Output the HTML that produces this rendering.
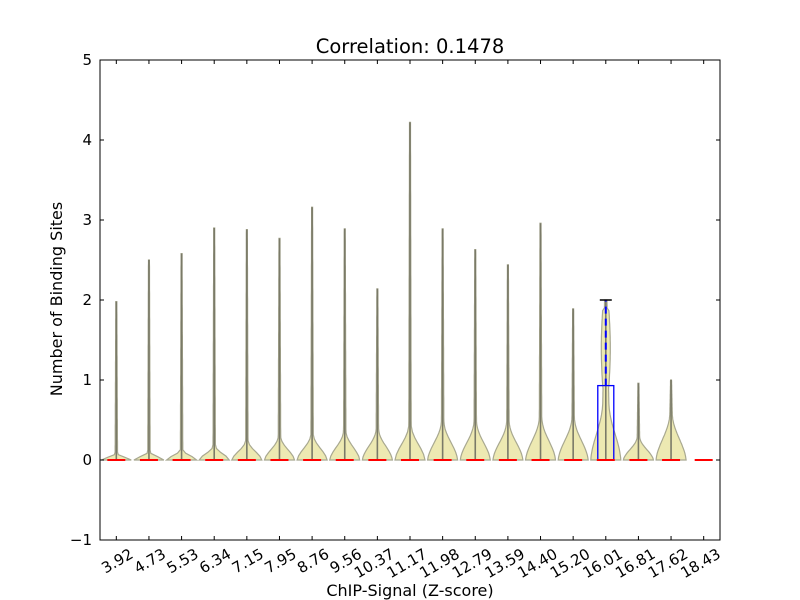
<!DOCTYPE html>
<html><head><meta charset="utf-8"><style>
body{margin:0;background:#fff;}
svg{display:block;font-family:"DejaVu Sans","Liberation Sans",sans-serif;}
</style></head><body>
<svg id="chart" width="800" height="600" viewBox="0 0 800 600"></svg>
<script>
const categories=["3.92","4.73","5.53","6.34","7.15","7.95","8.76","9.56","10.37","11.17","11.98","12.79","13.59","14.40","15.20","16.01","16.81","17.62","18.43"];
const maxValues=[1.98,2.5,2.58,2.9,2.88,2.77,3.16,2.89,2.14,4.22,2.89,2.63,2.44,2.96,1.89,2.0,0.96,1.0,0];
const bulgeHeights=[0.08,0.1,0.13,0.18,0.25,0.3,0.33,0.37,0.4,0.45,0.5,0.5,0.5,0.55,0.55,0.75,0.3,0.6,0];
const medians=[0,0,0,0,0,0,0,0,0,0,0,0,0,0,0,0,0,0,0];
const boxQ3=0.93, boxWhisker=2.0, boxIndex=15;
const yTicks=[-1,0,1,2,3,4,5];
const svg=document.getElementById('chart');
const NS='http://www.w3.org/2000/svg';
const L=100,R=720,T=60,B=540,ymin=-1,ymax=5;
const y=v=>B-(v-ymin)/(ymax-ymin)*(B-T);
const bw=(R-L)/categories.length;
const x=i=>L+bw*(i+0.5);
function mk(tag,attrs,parent){const e=document.createElementNS(NS,tag);for(const k in attrs)e.setAttribute(k,attrs[k]);(parent||svg).appendChild(e);return e;}
categories.forEach((c,i)=>{
  const mx=maxValues[i],b=bulgeHeights[i];
  if(mx<=0)return;
  const cx=x(i),W=15,neck=(i===boxIndex?3:1.2);
  let right=[],left=[];
  const n=60;
  for(let k=0;k<=n;k++){
    const v=mx*k/n;
    let w;
    if(v<b){const t=v/b;w=neck+(W-neck)*(0.5*(1+Math.cos(Math.PI*t))*(1-t*0.3));}else{w=neck*(1-0.6*(v-b)/Math.max(mx-b,0.01));}
    if(i===boxIndex&&v>0.9&&v<1.9){w=Math.max(w,neck+1.5*Math.sin(Math.PI*(v-0.9)/1.0));}
    right.push([cx+w,y(v)]);left.push([cx-w,y(v)]);
  }
  const pts=right.concat(left.reverse());
  const p=mk('path',{d:'M'+pts.map(q=>q[0].toFixed(1)+','+q[1].toFixed(1)).join('L')+'Z',fill:'#ede9b2',stroke:'#a8a890','stroke-width':1.2});
  
  
  const s=mk('line',{x1:cx,x2:cx,y1:y(0),y2:y(mx),stroke:'#7a7a68','stroke-width':1.6});
  
  
});
{const cx=x(boxIndex);
const bx=mk('rect',{x:cx-8,y:y(boxQ3),width:16,height:y(0)-y(boxQ3),fill:'none',stroke:'#0000ff','stroke-width':1.3});

const wh=mk('line',{x1:cx,x2:cx,y1:y(boxQ3),y2:y(boxWhisker),stroke:'#0000ff','stroke-width':2,'stroke-dasharray':'7,5'});

const cp=mk('line',{x1:cx-6,x2:cx+6,y1:y(boxWhisker),y2:y(boxWhisker),stroke:'#000','stroke-width':1.5});
}
categories.forEach((c,i)=>{
  const m=mk('line',{x1:x(i)-9,x2:x(i)+9,y1:y(medians[i]),y2:y(medians[i]),stroke:'#ff0000','stroke-width':2});
  
  
});
const fr=mk('rect',{x:L,y:T,width:R-L,height:B-T,fill:'none',stroke:'#000','stroke-width':1});

yTicks.forEach(t=>{
  mk('line',{x1:L,x2:L+4,y1:y(t),y2:y(t),stroke:'#000'});
  mk('line',{x1:R,x2:R-4,y1:y(t),y2:y(t),stroke:'#000'});
  const tx=mk('text',{x:L-8,y:y(t)+5,'text-anchor':'end','font-size':15});
  tx.textContent=t<0?'\u2212'+(-t):String(t);
  
  
});
categories.forEach((c,i)=>{
  mk('line',{x1:x(i),x2:x(i),y1:B,y2:B-4,stroke:'#000'});
  mk('line',{x1:x(i),x2:x(i),y1:T,y2:T+4,stroke:'#000'});
  const ax=x(i)+18,ay=B+17;
  const tx=mk('text',{x:ax,y:ay,'text-anchor':'end','font-size':15,transform:`rotate(-30 ${ax} ${ay})`});
  tx.textContent=c;
  
  
});
const ti=mk('text',{x:410,y:53,'text-anchor':'middle','font-size':19.5});ti.textContent='Correlation: 0.1478';

const xl=mk('text',{x:410,y:596,'text-anchor':'middle','font-size':16});xl.textContent='ChIP-Signal (Z-score)';

const yl=mk('text',{x:62,y:299,'text-anchor':'middle','font-size':16,transform:'rotate(-90 62 299)'});yl.textContent='Number of Binding Sites';

</script>
</body></html>
